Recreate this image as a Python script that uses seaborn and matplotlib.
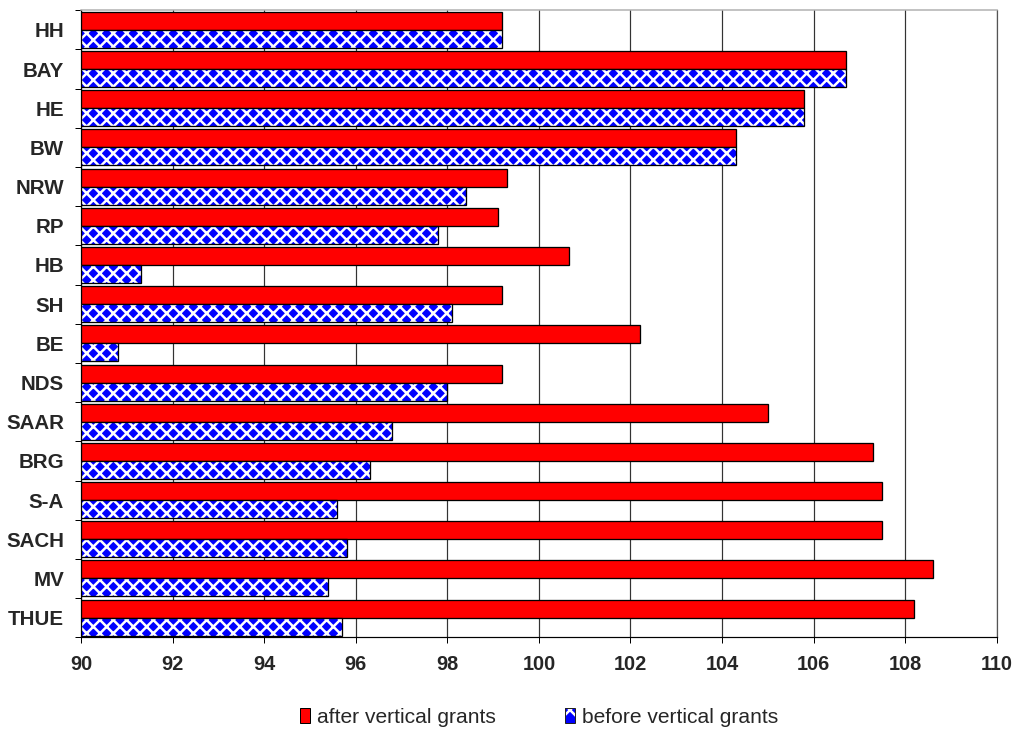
import matplotlib
matplotlib.use("Agg")
import matplotlib.pyplot as plt
from matplotlib.patches import Patch, Rectangle
from matplotlib.ticker import FixedLocator
import numpy as np
import pandas as pd
import seaborn as sns

# Federal states and fiscal capacity index (per cent of average)
states = ["HH", "BAY", "HE", "BW", "NRW", "RP", "HB", "SH", "BE", "NDS",
          "SAAR", "BRG", "S-A", "SACH", "MV", "THUE"]
after_grants = [99.2, 106.7, 105.8, 104.3, 99.3, 99.1, 100.65, 99.2, 102.2, 99.2,
                105.0, 107.3, 107.5, 107.5, 108.6, 108.2]
before_grants = [99.2, 106.7, 105.8, 104.3, 98.4, 97.8, 91.3, 98.1, 90.8, 98.0,
                 96.8, 96.3, 95.6, 95.8, 95.4, 95.7]
series_names = ["after vertical grants", "before vertical grants"]
x_ticks = [90, 92, 94, 96, 98, 100, 102, 104, 106, 108, 110]

df = pd.DataFrame({
    "state": states * 2,
    "value": after_grants + before_grants,
    "series": [series_names[0]] * len(states) + [series_names[1]] * len(states),
})

DPI = 120


def px(v):
    """pixels -> points at the output resolution"""
    return v * 72.0 / DPI


sns.set_style("white")
plt.rcParams["font.family"] = ["Liberation Sans", "DejaVu Sans"]
plt.rcParams["hatch.linewidth"] = 1.5

fig = plt.figure(figsize=(1013 / DPI, 735 / DPI), dpi=DPI)
ax = fig.add_axes([0.080, 0.133, 0.904, 0.853])

BASE = 90
df["length"] = df["value"] - BASE

sns.barplot(data=df, y="state", x="length", hue="series", order=states,
            hue_order=series_names, palette=["#ff0000", "#0000ff"],
            orient="h", width=0.92, dodge=True, gap=0, saturation=1,
            edgecolor="black", linewidth=px(1.3), legend=False, ax=ax, zorder=3)

# bars start at the axis minimum: shift every rectangle to x = BASE
for p in ax.patches:
    p.set_x(BASE)

# diamond pattern for the "before" bars: white lattice over blue, black outline on top
n = len(states)
before_patches = ax.patches[n:2 * n]
for p in before_patches:
    p.set_facecolor("#0000ff")
    p.set_edgecolor("white")
    p.set_hatch("xxx")
    p.set_linewidth(0)
    ax.add_patch(Rectangle((p.get_x(), p.get_y()), p.get_width(), p.get_height(),
                           fill=False, edgecolor="black", linewidth=px(1.3), zorder=4))

ax.set_xlim(90, 110)
ax.set_ylim(len(states) - 0.5, -0.5)
ax.xaxis.set_major_locator(FixedLocator(x_ticks))
ax.set_xticklabels([str(t) for t in x_ticks], fontsize=px(20), fontweight="bold")
ax.set_yticks(range(len(states)))
ax.set_yticklabels(states, fontsize=px(20.5), fontweight="bold")
ax.yaxis.set_minor_locator(FixedLocator(np.arange(-0.5, len(states), 1.0)))
ax.tick_params(axis="y", which="major", length=0, pad=px(17))
ax.tick_params(axis="y", which="minor", length=px(6), width=px(1), color="black",
               direction="out", left=True)
ax.tick_params(axis="x", which="major", length=px(6), width=px(1), color="black",
               direction="out", bottom=True, pad=px(12))
ax.set_xlabel("")
ax.set_ylabel("")

ax.grid(axis="x", color="#333333", linewidth=px(1.2), zorder=0)
ax.set_axisbelow(True)
for side in ["left", "bottom"]:
    ax.spines[side].set_color("black")
    ax.spines[side].set_linewidth(px(1.2))
ax.spines["top"].set_color("#b0b0b0")
ax.spines["top"].set_linewidth(px(1.5))
ax.spines["right"].set_color("#555555")
ax.spines["right"].set_linewidth(px(1.2))

# legend keys: plain red box, and the blue pattern with a thin dark outline
red_key = Patch(facecolor="#ff0000", edgecolor="black", linewidth=px(1))
pattern_key = (Patch(facecolor="#0000ff", edgecolor="white", hatch="xx", linewidth=0),
               Patch(facecolor="none", edgecolor="#222222", linewidth=px(1)))
ax.legend([red_key, pattern_key], series_names, loc="center", bbox_to_anchor=(0.5, -0.128),
          ncol=2, frameon=False, fontsize=px(21), handlelength=0.5,
          handleheight=0.75, handletextpad=0.3, columnspacing=3.3)

fig.savefig("out.png", dpi=DPI)
